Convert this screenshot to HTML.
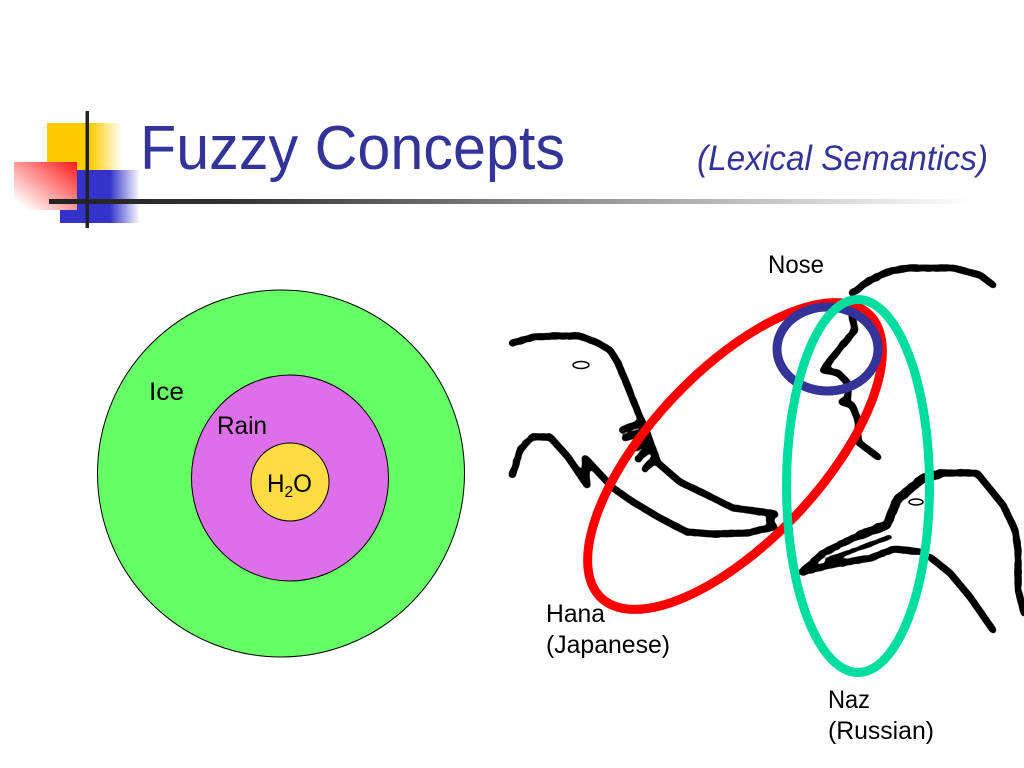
<!DOCTYPE html>
<html><head><meta charset="utf-8"><style>html,body{margin:0;padding:0;background:#fff}svg{display:block}</style></head>
<body>
<svg width="1024" height="768" viewBox="0 0 1024 768" xmlns="http://www.w3.org/2000/svg" style="font-family:'Liberation Sans','DejaVu Sans',sans-serif">
<defs>
<linearGradient id="y" x1="0" x2="1" y1="0" y2="0"><stop offset="0.58" stop-color="#ffcc00"/><stop offset="1" stop-color="#ffcc00" stop-opacity="0"/></linearGradient>
<linearGradient id="b" x1="0" x2="1" y1="0" y2="0"><stop offset="0.52" stop-color="#3333cc"/><stop offset="1" stop-color="#3333cc" stop-opacity="0"/></linearGradient>
<linearGradient id="r" x1="1" x2="0" y1="0" y2="1"><stop offset="0" stop-color="#ff1a1a"/><stop offset="0.9" stop-color="#ff1a1a" stop-opacity="0"/></linearGradient>
<linearGradient id="l" x1="0" x2="1" y1="0" y2="0"><stop offset="0" stop-color="#222"/><stop offset="0.2" stop-color="#333"/><stop offset="1" stop-color="#fff"/></linearGradient>
<filter id="ink" x="-5%" y="-5%" width="110%" height="110%">
<feTurbulence type="fractalNoise" baseFrequency="0.35" numOctaves="2" seed="3" result="n"/>
<feDisplacementMap in="SourceGraphic" in2="n" scale="2.500" result="d"/>
<feGaussianBlur in="d" stdDeviation="1.600" result="bl"/>
<feComponentTransfer in="bl"><feFuncA type="linear" slope="6" intercept="-2.400"/></feComponentTransfer>
</filter>
</defs>
<rect x="47" y="123" width="75" height="47" fill="url(#y)"/>
<rect x="77" y="170" width="63" height="53" fill="url(#b)"/>
<rect x="60" y="210" width="45" height="13" fill="#3333cc"/>
<rect x="14" y="162" width="63" height="48" fill="#fff"/>
<rect x="14" y="162" width="63" height="48" fill="url(#r)"/>
<rect x="49" y="199" width="925" height="5" fill="url(#l)"/>
<rect x="85.500" y="111" width="3.500" height="117" fill="#222"/>
<text x="140" y="169" font-size="62" fill="#333399" textLength="425" lengthAdjust="spacingAndGlyphs">Fuzzy Concepts</text>
<text x="697" y="170" font-size="35" font-style="italic" fill="#333399" textLength="291" lengthAdjust="spacingAndGlyphs">(Lexical Semantics)</text>

<circle cx="281" cy="473.500" r="183.500" fill="#66ff66" stroke="#000"/>
<ellipse cx="290" cy="478" rx="98.500" ry="103" fill="#dd6fe8" stroke="#000"/>
<circle cx="290" cy="482" r="39" fill="#ffdb44" stroke="#000"/>
<g font-size="25" fill="#000">
<text x="149" y="400" textLength="35" lengthAdjust="spacingAndGlyphs">Ice</text>
<text x="217" y="434" textLength="50" lengthAdjust="spacingAndGlyphs">Rain</text>
<text x="267" y="492" textLength="45" lengthAdjust="spacingAndGlyphs">H<tspan font-size="16" dy="5">2</tspan><tspan dy="-5">O</tspan></text>
<text x="768" y="273" textLength="56" lengthAdjust="spacingAndGlyphs">Nose</text>
<text x="546" y="622" textLength="59" lengthAdjust="spacingAndGlyphs">Hana</text>
<text x="546" y="653" textLength="124" lengthAdjust="spacingAndGlyphs">(Japanese)</text>
<text x="828" y="708" textLength="42" lengthAdjust="spacingAndGlyphs">Naz</text>
<text x="828" y="739" textLength="106" lengthAdjust="spacingAndGlyphs">(Russian)</text>
</g>

<g filter="url(#ink)">
<g fill="none" stroke="#000" stroke-width="7" stroke-linejoin="round" stroke-linecap="round">
<path d="M512 343 L533 337 L557 336 L580 336 L598 343 L610 350 L618 363 L628 387 L637 410 L647 433 L658 463 L680 482 L707 495 L733 508 L763 512 L775 514 L769 520 L774 527 L747 533 L713 534 L687 532 L660 518 L633 502 L613 488 L585 458 L587 485 L568 457 L550 437 L532 437 L520 450 L515 467 L512 475"/>
<path d="M622 430 L640 423M625 438 L643 432M635 448 L647 440M638 459 L650 448M645 469 L655 458"/>
<path d="M852 293 L870 280 L890 271 L907 268 L953 268 L980 275 L993 285" />
<path d="M852 317 L855 330 L840 348 L823 370 L838 373 L848 383 L848 397 L842 402 L852 405 L858 420 L858 442 L878 457"/>
<path d="M802 572 L823 553 L860 535 L887 525 L897 500 L923 478 L940 473 L977 473 L1003 505 L1015 530 L1018 550 L1018 590 L1024 613"/>
<path d="M860 535 L887 525 L897 500 L923 478 L940 474" stroke-width="9"/>
<path d="M802 572 L830 565 L870 558 L895 549 L920 552"/>
<path d="M930 557 L950 573 L970 597 L993 630"/>
<path d="M827 560 L890 537" stroke-width="4.500"/>
</g>
</g>
<ellipse cx="581" cy="365" rx="8" ry="3.500" fill="#fff" stroke="#000" stroke-width="1.500"/>
<ellipse cx="916" cy="502" rx="7" ry="3" fill="#fff" stroke="#000" stroke-width="1.500"/>

<ellipse cx="735" cy="456" rx="195" ry="85" transform="rotate(-46.700 735 456)" fill="none" stroke="#ff0000" stroke-width="9"/>
<ellipse cx="827.500" cy="349" rx="50.500" ry="42" fill="none" stroke="#333399" stroke-width="9"/>
<ellipse cx="858" cy="486" rx="71.500" ry="186.500" fill="none" stroke="#00dda0" stroke-width="9"/>
</svg>
</body></html>
